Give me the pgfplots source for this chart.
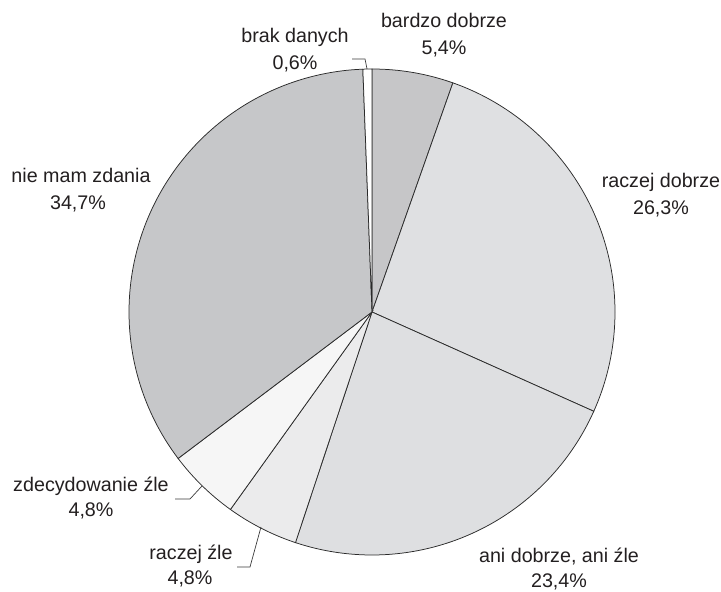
\documentclass[border=0pt]{standalone}
\usepackage{pgfplots}
\pgfplotsset{compat=1.18}
\usepackage{fontspec}
\setmainfont{Liberation Sans}
\definecolor{cBD}{HTML}{C6C6C8}
\definecolor{cRD}{HTML}{DFE0E2}
\definecolor{cAD}{HTML}{DEDFE1}
\definecolor{cRZ}{HTML}{EBEBEC}
\definecolor{cZZ}{HTML}{F6F6F6}
\definecolor{cNM}{HTML}{C6C7C9}
\definecolor{cBR}{HTML}{FFFFFF}
\definecolor{edge}{HTML}{2A2A2A}
\definecolor{txt}{HTML}{231F20}
\definecolor{lead}{HTML}{3A3A3A}
% shares in percent, clockwise from 12 o'clock
\pgfmathsetmacro\sA{90}
\pgfmathsetmacro\sB{\sA-3.6*5.4}  % bardzo dobrze
\pgfmathsetmacro\sC{\sB-3.6*26.3} % raczej dobrze
\pgfmathsetmacro\sD{\sC-3.6*23.4} % ani dobrze, ani zle
\pgfmathsetmacro\sE{\sD-3.6*4.8}  % raczej zle
\pgfmathsetmacro\sF{\sE-3.6*4.8}  % zdecydowanie zle
\pgfmathsetmacro\sG{\sF-3.6*34.7} % nie mam zdania
\pgfmathsetmacro\sH{\sG-3.6*0.6}  % brak danych
\newcommand\pieslice[4]{%
  \addplot[fill=#3, draw=edge, line width=0.75bp, domain=#2:#1, samples=#4, variable=\t, smooth=false]
    ({372+243*cos(\t)},{280+243*sin(\t)}) -- (axis cs:372,280) -- cycle;}
\newcommand\lbl{\fontsize{19.7bp}{24bp}\selectfont}
\begin{document}
\begin{tikzpicture}
\begin{axis}[x=1bp, y=1bp, xmin=0, xmax=721, ymin=0, ymax=592,
  hide axis, clip=false, scale only axis]
\path (rel axis cs:0,0) rectangle (rel axis cs:1,1);
\pieslice{\sA}{\sB}{cBD}{20}
\pieslice{\sB}{\sC}{cRD}{80}
\pieslice{\sC}{\sD}{cAD}{80}
\pieslice{\sD}{\sE}{cRZ}{20}
\pieslice{\sE}{\sF}{cZZ}{20}
\pieslice{\sF}{\sG}{cNM}{100}
\pieslice{\sG}{\sH}{cBR}{4}
% leader lines
\draw[lead, line width=0.7bp] (axis cs:352,533) -- (axis cs:365,533) -- (axis cs:367,523);
\draw[lead, line width=0.7bp] (axis cs:175,93) -- (axis cs:190,93) -- (axis cs:202,106);
\draw[lead, line width=0.7bp] (axis cs:237,25) -- (axis cs:250,25) -- (axis cs:261,65);
% labels
\begin{scope}[every node/.style={anchor=base, inner sep=0pt, text=txt, font=\lbl}]
\node at (axis cs:444,564) {bardzo dobrze};
\node at (axis cs:444,537) {5,4\%};
\node at (axis cs:295,549) {brak danych};
\node at (axis cs:295,522) {0,6\%};
\node at (axis cs:661,404) {raczej dobrze};
\node at (axis cs:661,377) {26,3\%};
\node at (axis cs:559,29) {ani dobrze, ani źle};
\node at (axis cs:559,4) {23,4\%};
\node at (axis cs:191,32) {raczej źle};
\node at (axis cs:190,7) {4,8\%};
\node at (axis cs:91,100) {zdecydowanie źle};
\node at (axis cs:91,75) {4,8\%};
\node at (axis cs:81,409) {nie mam zdania};
\node at (axis cs:78,382) {34,7\%};
\end{scope}
\end{axis}
\end{tikzpicture}
\end{document}
